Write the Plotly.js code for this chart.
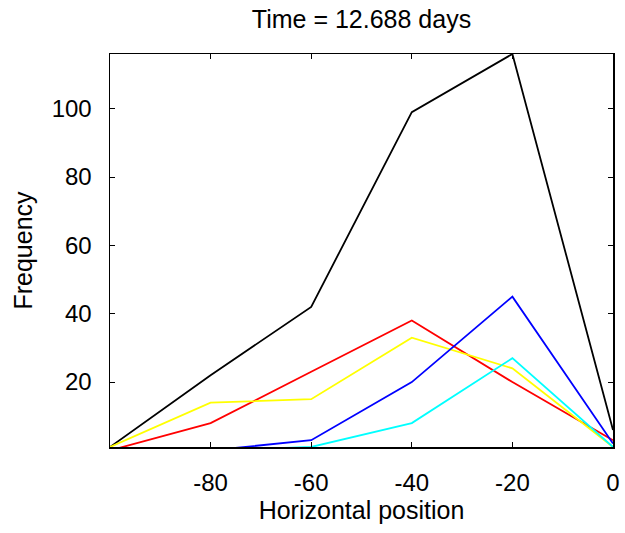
<!DOCTYPE html>
<html>
<head>
<meta charset="utf-8">
<script src="https://cdn.plot.ly/plotly-3.0.1.min.js"></script>
<style>html,body{margin:0;padding:0;background:#fff;}#chart{width:625px;height:533px;}</style>
</head>
<body>
<div id="chart"></div>
<script>
const positions = [-100, -80, -60, -40, -20, 0];
const blackSeries  = [1, 22, 42, 99, 116, 6];
const redSeries    = [0, 8, 23, 38, 20, 3];
const yellowSeries = [1, 14, 15, 33, 24, 1];
const blueSeries   = [0, 0, 3, 20, 45, 2];
const cyanSeries   = [0, 0, 1, 8, 27, 1];
const xTicks = [-80, -60, -40, -20, 0];
const yTicks = [20, 40, 60, 80, 100];

const FONT = "Liberation Sans, Arial, sans-serif";
function tr(y, color) {
  return {x: positions, y: y, type: 'scatter', mode: 'lines',
          line: {color: color, width: 1.8}, hoverinfo: 'skip'};
}
const data = [
  tr(blackSeries, '#000000'),
  tr(redSeries, '#ff0000'),
  tr(yellowSeries, '#ffff00'),
  tr(blueSeries, '#0000ff'),
  tr(cyanSeries, '#00ffff')
];
const layout = {
  width: 625, height: 533,
  margin: {l: 110, r: 12, t: 54, b: 86},
  paper_bgcolor: '#fff', plot_bgcolor: '#fff',
  showlegend: false,
  font: {family: FONT, size: 24, color: '#000'},
  title: {text: 'Time = 12.688 days', font: {family: FONT, size: 25, color: '#000'},
          x: 0.5, xanchor: 'center', xref: 'paper', y: 1 - 19/533, yanchor: 'middle', yref: 'container'},
  xaxis: {range: [-100, 0], tickvals: xTicks, ticktext: xTicks.map(String),
          ticks: 'inside', ticklen: 5, tickcolor: '#000', tickwidth: 1,
          showline: true, linecolor: '#000', linewidth: 1.5, mirror: 'ticks',
          showgrid: false, zeroline: false, ticklabelstandoff: 14,
          tickfont: {family: FONT, size: 24, color: '#000'},
          title: {text: 'Horizontal position', font: {family: FONT, size: 25, color: '#000'}, standoff: 6}},
  yaxis: {range: [1, 116], tickvals: yTicks, ticktext: yTicks.map(String),
          ticks: 'inside', ticklen: 5, tickcolor: '#000', tickwidth: 1,
          showline: true, linecolor: '#000', linewidth: 1.5, mirror: 'ticks',
          showgrid: false, zeroline: false, ticklabelstandoff: 12,
          tickfont: {family: FONT, size: 24, color: '#000'},
          title: {text: 'Frequency', font: {family: FONT, size: 25, color: '#000'}, standoff: 12}}
};
Plotly.newPlot('chart', data, layout, {staticPlot: true, displayModeBar: false});
</script>
</body>
</html>
